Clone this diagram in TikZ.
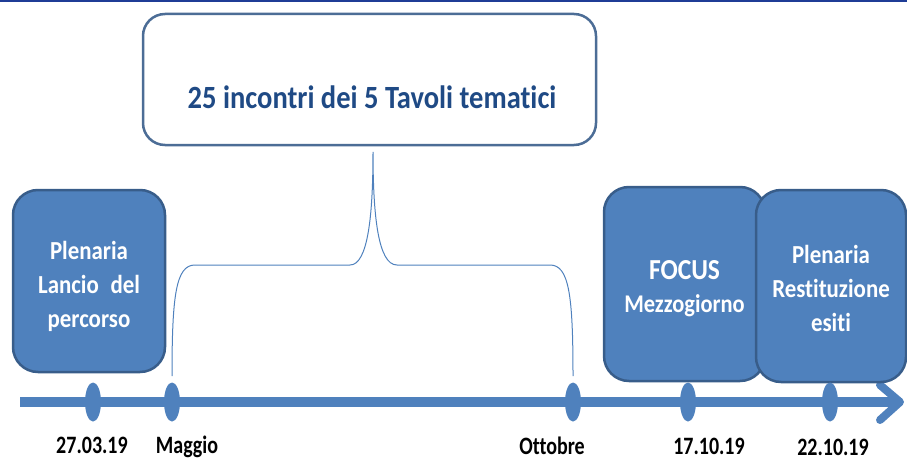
\documentclass[tikz,border=0pt]{standalone}
\usepackage{fontspec}
\setmainfont{Carlito}[FakeStretch=0.88, Ligatures=NoCommon]
\newfontfamily\labelfont{Carlito}[FakeStretch=0.8, Ligatures=NoCommon]
\usetikzlibrary{positioning}
\usetikzlibrary{shapes.geometric}
\definecolor{tlblue}{HTML}{4F81BD}
\definecolor{tlborder}{HTML}{385D8A}
\definecolor{tltitle}{HTML}{1F4A85}
\definecolor{tltop}{HTML}{1F3C96}
\tikzset{
    mybox/.style = {rectangle, rounded corners=25pt, line width=2.5pt, draw=tlborder, fill=tlblue, inner sep=0pt},
    myboxw/.style = {rectangle, rounded corners=22pt, line width=2.5pt, draw=tlborder!90, fill=white, inner sep=0pt},
    boxtext/.style = {align=center, text=white, inner sep=0pt, font=\fontsize{26}{34}\selectfont\bfseries},
    titletext/.style = {text=tltitle, inner sep=0pt, font=\fontsize{32.4}{36}\selectfont\bfseries},
    mydot/.style = {ellipse, fill=tlblue, minimum width=16pt, minimum height=39pt, inner sep=0pt},
    mylabel/.style = {anchor=base, inner sep=0pt, font=\labelfont\fontsize{25}{27}\selectfont\bfseries, text=black},
    edgeb/.style = {-, line width=10pt, tlblue},
    edgebr/.style = {-, line width=1pt, tlblue}, % brace
}

\begin{document}
\begin{tikzpicture}[x=1pt, y=-1pt]
  \useasboundingbox (0,0) rectangle (907,460);
  \draw[line width=2pt, tltop] (0,1) -- (907,1);
  % timeline
  \coordinate (ts) at (20,402);
  \coordinate (te) at (900,402);
  \draw[edgeb] (ts) -- (te);
  \draw[tlblue, line width=8pt, line cap=round, line join=round] (880,385) -- (te) -- (880,420);
  % boxes
  \node[myboxw, minimum width=453pt, minimum height=131pt] (title) at (369.5,79.5) {};
  \node[titletext] (titlet) at (372,97) {25 incontri dei 5 Tavoli tematici};
  \node[mybox, minimum width=152pt, minimum height=182pt] (lancio) at (89,281) {};
  \node[boxtext] (lanciot) at ([yshift=-5pt]lancio.center) {Plenaria\\Lancio\hspace{0.25em} del\\percorso};
  \node[mybox, minimum width=161pt, minimum height=194pt] (focus) at (684.5,284) {};
  \node[boxtext, font=\fontsize{25.5}{33}\selectfont\bfseries] (focust) at ([yshift=-5pt]focus.center) {{\fontsize{29}{30}\selectfont FOCUS}\\Mezzogiorno};
  \node[mybox, minimum width=150pt, minimum height=192pt] (rest) at (831,286) {};
  \node[boxtext] (restt) at ([yshift=-2pt]rest.center) {Plenaria\\Restituzione\\esiti};
  % brace
  \coordinate (bl) at (172,376);
  \coordinate (br) at (573,376);
  \coordinate (tip) at (373,152);
  \draw[edgebr] (bl) .. controls (172,295) and (176,265) .. (195,265) -- (350,265)
    .. controls (368,265) and (373,215) .. (tip)
    .. controls (373,215) and (378,265) .. (397,265) -- (550,265)
    .. controls (569,265) and (573,295) .. (br);
  % dates
  \node[mydot] (d1) at (93,402) {};
  \node[mydot] (d2) at (172,402) {};
  \node[mydot] (d3) at (573,402) {};
  \node[mydot] (d4) at (688,402) {};
  \node[mydot] (d5) at (830,402) {};
  \node[mylabel] (l1) at (92,453) {27.03.19};
  \node[mylabel] (l2) at (187,453) {Maggio};
  \node[mylabel] (l3) at (552,454) {Ottobre};
  \node[mylabel] (l4) at (709,454) {17.10.19};
  \node[mylabel] (l5) at (833,455.5) {22.10.19};
\end{tikzpicture}
\end{document}
